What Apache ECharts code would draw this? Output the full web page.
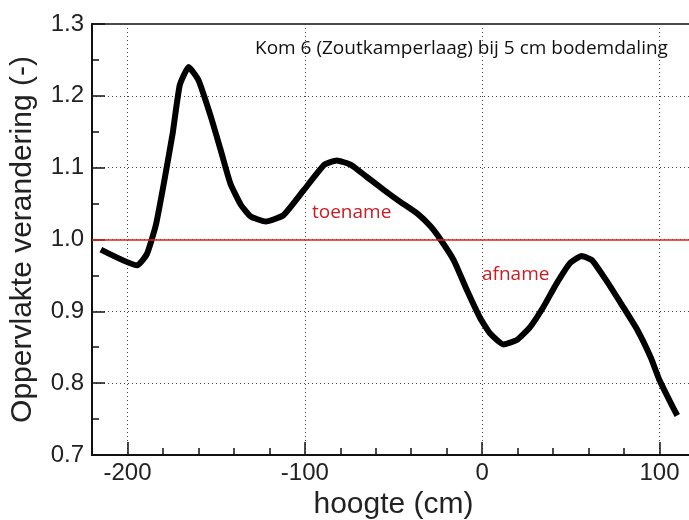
<!DOCTYPE html>
<html>
<head>
<meta charset="utf-8">
<title>Oppervlakte verandering</title>
<script src="https://cdn.jsdelivr.net/npm/echarts@6/dist/echarts.min.js"></script>
<style>
  html, body { margin: 0; padding: 0; background: #fff; }
  #main { width: 689px; height: 520px; }
</style>
</head>
<body>
<div id="main"></div>
<script>
// hoogte (cm) en oppervlakte verandering (-)
var hoogte = [-215, -194.5, -189, -184, -179.5, -174.5, -170.5, -165.5, -160, -153,
    -147.5, -142, -136, -130.5, -122, -112, -100.5, -89, -82, -74,
    -65, -55.5, -46, -36.5, -29, -23.5, -16, -8.5, -1, 4.5,
    12, 19.5, 27, 34.5, 42, 49.5, 56, 62, 70.5, 79,
    87.5, 95, 100, 106, 110];
var verandering = [0.986, 0.964, 0.980, 1.020, 1.078, 1.148, 1.215, 1.240, 1.222, 1.171,
    1.125, 1.078, 1.048, 1.032, 1.025, 1.034, 1.069, 1.104, 1.110, 1.104,
    1.087, 1.069, 1.052, 1.036, 1.018, 1.000, 0.971, 0.929, 0.890, 0.869,
    0.854, 0.860, 0.878, 0.906, 0.939, 0.967, 0.977, 0.971, 0.941, 0.908,
    0.874, 0.836, 0.804, 0.774, 0.755];
var xTicks = [-200, -100, 0, 100];
var referentie = 1.0;

var chart = echarts.init(document.getElementById('main'));

var punten = [];
for (var i = 0; i < hoogte.length; i++) {
    punten.push([hoogte[i], verandering[i]]);
}

var labelFont = 'Liberation Sans, Arial, Helvetica, sans-serif';
var dotted = { color: '#444', width: 1, type: [1, 3] };

var option = {
    animation: false,
    backgroundColor: '#fff',
    grid: {
        left: 92,
        top: 24,
        bottom: 65,
        right: -6,
        outerBoundsMode: 'none',
        show: true,
        borderColor: '#111',
        borderWidth: 1.5,
        backgroundColor: 'transparent'
    },
    xAxis: [
        {
            // kleine streepjes om de 20 cm
            type: 'value',
            position: 'bottom',
            min: -220,
            max: 120,
            interval: 20,
            axisLine: { show: true, onZero: false, lineStyle: { color: '#111', width: 2 } },
            axisTick: { show: true, inside: true, length: 7, lineStyle: { color: '#111', width: 1.5 } },
            axisLabel: { show: false },
            splitLine: { show: false }
        },
        {
            // grote streepjes, labels en rasterlijnen om de 100 cm
            type: 'value',
            position: 'bottom',
            min: -220,
            max: 120,
            name: 'hoogte (cm)',
            nameLocation: 'middle',
            nameGap: 34,
            nameTextStyle: { fontFamily: labelFont, fontSize: 30, color: '#222' },
            axisLine: { show: false, onZero: false },
            axisTick: { show: true, inside: true, length: 13, customValues: xTicks,
                lineStyle: { color: '#111', width: 1.5 } },
            axisLabel: { show: true, customValues: xTicks, margin: 6,
                fontFamily: labelFont, fontSize: 24, color: '#222' },
            splitLine: { show: true, lineStyle: dotted }
        }
    ],
    yAxis: {
        type: 'value',
        min: 0.7,
        max: 1.3,
        interval: 0.1,
        name: 'Oppervlakte verandering (-)',
        nameLocation: 'middle',
        nameGap: 54,
        nameTextStyle: { fontFamily: labelFont, fontSize: 30, color: '#222' },
        axisLine: { show: true, onZero: false, lineStyle: { color: '#111', width: 2 } },
        axisTick: { show: true, inside: true, length: 13, lineStyle: { color: '#111', width: 1.5 } },
        minorTick: { show: true, splitNumber: 2, length: 7, lineStyle: { color: '#111', width: 1.5 } },
        axisLabel: {
            margin: 8,
            fontFamily: labelFont,
            fontSize: 24,
            color: '#222',
            formatter: function (v) { return v.toFixed(1); }
        },
        splitLine: { show: true, lineStyle: dotted }
    },
    series: [
        {
            type: 'line',
            xAxisIndex: 0,
            yAxisIndex: 0,
            data: punten,
            symbol: 'none',
            smooth: 0.15,
            lineStyle: { color: '#000', width: 6, join: 'miter', cap: 'butt' },
            markLine: {
                silent: true,
                symbol: 'none',
                label: { show: false },
                lineStyle: { color: '#e3211c', width: 1.5, type: 'solid' },
                data: [{ yAxis: referentie }]
            }
        }
    ],
    graphic: [
        {
            type: 'text', left: 255, top: 39,
            style: { text: 'Kom 6 (Zoutkamperlaag) bij 5 cm bodemdaling',
                font: '19px "Open Sans", sans-serif', fill: '#111' }
        },
        {
            type: 'text', left: 312, top: 203,
            style: { text: 'toename', font: '19px "Open Sans", sans-serif', fill: '#cc1b22' }
        },
        {
            type: 'text', left: 482, top: 265,
            style: { text: 'afname', font: '19px "Open Sans", sans-serif', fill: '#cc1b22' }
        }
    ]
};

chart.setOption(option);
</script>
</body>
</html>
